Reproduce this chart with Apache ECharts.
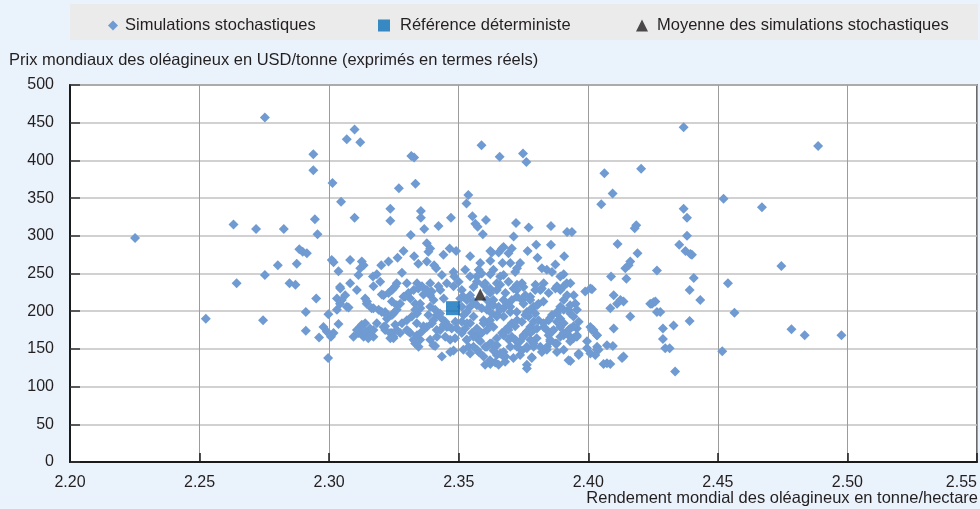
<!DOCTYPE html>
<html>
<head>
<meta charset="utf-8">
<script src="https://cdn.jsdelivr.net/npm/echarts@6/dist/echarts.min.js"></script>
<style>
html,body{margin:0;padding:0;background:#eaf2fb;}
#chart{width:980px;height:509px;}
</style>
</head>
<body>
<div id="chart"></div>
<script>
// ---- Data ----
const xTicks = ['2.20','2.25','2.30','2.35','2.40','2.45','2.50','2.55'];
const yTicks = [0,50,100,150,200,250,300,350,400,450,500];
const legendNames = ['Simulations stochastiques','Référence déterministe','Moyenne des simulations stochastiques'];
const xTitle = 'Rendement mondial des oléagineux en tonne/hectare';
const yTitle = 'Prix mondiaux des oléagineux en USD/tonne (exprimés en termes réels)';

const referencePoint = [2.3478, 204];
const meanPoint = [2.3583, 222];

const simulations = [
[2.2752,457],[2.3098,441],[2.3068,428],[2.3120,424],[2.2939,408],[2.2939,387],[2.3013,370],[2.3046,345],[2.3098,324],[2.2945,322],[2.2955,302],[2.2631,315],[2.2718,309],[2.2825,309],[2.2251,297],[2.2885,282],[2.2898,279],[2.2914,277],[2.2802,261],[2.2875,263],[2.3010,268],[2.3017,265],[2.3081,268],[2.3036,253],[2.2752,248],[2.3113,248],
[2.2643,237],[2.2847,237],[2.2870,235],[2.3042,232],[2.2950,217],[2.3030,217],[2.3049,215],[2.3042,210],[2.3075,205],[2.3030,202],[2.2910,199],[2.2997,196],[2.2524,190],[2.2745,188],[2.3036,183],[2.2910,174],[2.2978,179],[2.2991,173],[2.3007,166],[2.2961,165],[2.3094,166],[2.3113,175],[2.2996,138],
[2.3317,406],[2.3328,404],[2.3588,420],[2.3658,405],[2.3748,409],[2.3761,398],[2.4062,383],[2.4204,389],[2.4094,356],[2.4050,342],[2.3269,363],[2.3333,369],[2.3236,336],[2.3236,320],[2.3354,333],[2.3354,324],[2.3470,324],[2.3422,313],[2.3367,309],[2.3315,301],[2.3537,354],[2.3530,343],[2.3553,326],[2.3605,321],[2.3564,316],[2.3573,312],[2.3593,302],[2.3721,317],[2.3770,311],[2.3856,313],[2.3712,299],[2.3918,305],[2.3937,305],[2.4179,310],[2.4185,314],[2.4113,289],[2.4190,277],[2.4162,266],[2.4156,261],[2.4143,257],[2.4088,246],[2.4147,243],[2.4265,254],[2.3799,288],[2.3856,288],[2.3766,280],[2.3804,271],[2.3907,273],[2.3873,262],[2.3821,257],[2.3840,255],[2.3860,252],[2.3905,249],[2.3892,246],[2.3377,290],[2.3390,283],[2.3383,279],[2.3465,283],[2.3490,280],[2.3441,275],[2.3287,280],[2.3328,273],[2.3264,271],[2.3344,263],[2.3377,266],[2.3405,261],[2.3413,257],[2.3435,248],[2.3480,252],[2.3483,246],[2.3229,266],[2.3201,261],[2.3126,266],[2.3133,261],[2.3120,257],[2.3281,251],[2.3184,249],[2.3169,246],[2.3544,273],[2.3622,280],[2.3628,278],[2.3667,283],[2.3673,285],[2.3654,278],[2.3692,277],[2.3705,283],[2.3669,264],[2.3622,267],[2.3583,264],[2.3699,264],[2.3525,255],[2.3577,255],[2.3589,250],[2.3634,255],[2.3622,249],[2.3673,248],[2.3660,246],[2.3737,264],[2.3725,257],[2.3718,252],[2.3544,246],[2.3570,246],
[2.4368,444],[2.4887,419],[2.4522,349],[2.4670,338],[2.4368,336],[2.4381,324],[2.4381,300],[2.4351,288],[2.4375,280],[2.4394,276],[2.4400,275],[2.4745,260],[2.4407,244],[2.4539,237],[2.4391,228],[2.4432,215],[2.4239,210],[2.4252,212],[2.4278,199],[2.4391,187],[2.4288,177],[2.4329,181],[2.4288,163],[2.4297,151],[2.4314,151],[2.4335,120],[2.4564,198],[2.4784,176],[2.4835,168],[2.4977,168],[2.4517,147],
[2.3763,124],[2.3602,129],[2.3622,130],[2.3641,132],[2.3673,140],[2.3435,140],[2.3480,148],[2.3467,146],[2.3782,139],[2.3821,146],[2.3931,134],[2.3963,142],[2.4008,144],[2.4027,142],[2.4040,149],[2.4034,153],[2.4059,130],[2.4085,130],[2.4095,154],[2.4136,140],[2.4130,138],[2.3409,154],[2.3332,157],[2.3345,153],[2.3351,162],[2.3300,175],[2.3313,171],[2.3236,164],[2.3248,166],[2.3242,171],[2.3210,179],[2.3216,175],[2.3171,166],[2.3152,168],[2.3133,166],[2.3114,171],[2.3120,179],[2.3107,175],
[2.3184,184],[2.3448,166],[2.3467,162],[2.3486,164],[2.3429,175],[2.3454,179],[2.3473,177],[2.3531,162],[2.3538,153],[2.3557,153],[2.3577,146],[2.3609,153],[2.3628,157],[2.3634,148],[2.3660,144],[2.3680,140],[2.3647,155],[2.3725,153],[2.3744,148],[2.3737,160],[2.3705,166],[2.3718,162],[2.3789,153],[2.3801,164],[2.3853,162],[2.3873,157],[2.3892,166],[2.3905,171],[2.3924,168],[2.3956,166],[2.3943,164],[2.3840,175],[2.3860,173],[2.3892,179],[2.3905,184],[2.3931,177],[2.3956,177],[2.4020,175],[2.4034,168],[2.4008,179],[2.4098,177],[2.4162,193],[2.4085,204],[2.4111,210],[2.4124,215],[2.4136,213],[2.4098,221],[2.4246,210],[2.4259,213],[2.4265,199],[2.3988,226],[2.4014,229],[2.3950,210],[2.3931,197],[2.3943,193],[2.3892,206],[2.3879,199],[2.3860,195],[2.3847,188],[2.3879,186],[2.3892,190],[2.3905,215],[2.3918,221],[2.3873,230],[2.3892,228],[2.3815,228],[2.3827,213],[2.3808,210],[2.3789,206],[2.3776,202],[2.3763,199],[2.3757,195],[2.3789,186],[2.3776,179],[2.3763,173],[2.3750,168],[2.3725,188],[2.3705,184],[2.3692,179],[2.3680,175],[2.3667,171],[2.3725,219],[2.3744,215],[2.3757,221],[2.3776,219],[2.3712,230],[2.3725,235],[2.3744,237],[2.3750,232],[2.3660,235],[2.3680,224],[2.3647,228],[2.3634,215],[2.3622,208],[2.3609,202],[2.3628,197],[2.3647,195],[2.3654,206],[2.3673,204],[2.3699,199],[2.3596,188],[2.3615,184],[2.3634,179],[2.3609,175],[2.3589,171],[2.3570,166],[2.3557,193],[2.3544,184],[2.3525,177],[2.3512,186],[2.3531,199],[2.3544,206],[2.3557,213],[2.3570,208],[2.3589,204],[2.3531,215],[2.3544,221],[2.3518,219],[2.3557,232],[2.3570,239],[2.3602,237],
[2.3043,230],[2.3068,206],[2.3017,171],[2.3139,217],[2.3146,213],[2.3171,204],[2.3191,202],[2.3216,199],[2.3210,221],[2.3229,224],[2.3242,228],[2.3255,233],[2.3261,237],[2.3274,210],[2.3261,202],[2.3242,195],[2.3223,190],[2.3255,182],[2.3281,184],[2.3300,188],[2.3319,193],[2.3339,197],[2.3352,204],[2.3332,210],[2.3313,217],[2.3306,224],[2.3326,228],[2.3339,237],[2.3358,233],[2.3377,228],[2.3390,221],[2.3403,215],[2.3390,206],[2.3409,202],[2.3416,195],[2.3435,190],[2.3448,186],[2.3442,182],[2.3461,180],[2.3397,184],[2.3377,179],[2.3358,173],[2.3339,168],[2.3326,162],[2.3390,162],[2.3416,166],[2.3171,233],[2.3197,239],[2.3081,237],[2.3107,228],[2.3062,221],[2.3300,237],[2.3390,237],[2.3429,228],[2.3442,217],[2.3454,237],[2.3480,233],[2.3500,239],[2.3512,228],[2.3506,217],[2.3512,206],[2.3519,195],[2.3512,171],[2.3487,186],[2.3493,177],[2.3158,177],[2.3139,184],
[2.3796,235],[2.3828,237],[2.3847,224],[2.3905,233],[2.3931,237],[2.3944,221],[2.3924,202],[2.3956,202],[2.3789,175],[2.3828,179],[2.3808,188],[2.3686,210],[2.3705,215],[2.3673,193],[2.3609,228],[2.3622,224],[2.3647,237],[2.3532,184],[2.3570,177],[2.3577,162],[2.3551,171],[2.3693,162],[2.3776,162],[2.3763,153],[2.3841,153],
[2.3126,182],[2.3139,173],[2.3145,210],[2.3164,204],[2.3203,199],[2.3171,175],[2.3158,168],[2.3151,164],[2.3216,180],[2.3235,171],[2.3248,164],[2.3261,175],[2.3274,171],[2.3306,173],[2.3203,222],[2.3248,230],[2.3287,219],[2.3222,195],[2.3248,197],[2.3242,213],[2.3261,208],[2.3344,230],[2.3364,222],[2.3396,226],[2.3422,233],[2.3332,202],[2.3383,195],[2.3338,184],[2.3364,180],[2.3402,188],[2.3428,197],[2.3415,175],[2.3332,160],[2.3402,155],[2.3293,219],[2.3351,210],
[2.3596,235],[2.3621,230],[2.3692,239],[2.3724,228],[2.3795,228],[2.3821,230],[2.3879,233],[2.3917,237],[2.4008,230],
[2.3609,215],[2.3634,208],[2.3660,202],[2.3647,193],[2.3621,188],[2.3596,184],[2.3673,215],[2.3699,206],[2.3724,199],[2.3750,210],[2.3776,215],[2.3802,208],[2.3795,197],[2.3769,193],[2.3744,186],[2.3718,180],[2.3692,175],[2.3673,168],[2.3647,164],[2.3621,157],[2.3602,153],[2.3583,160],[2.3557,166],[2.3531,162],[2.3518,149],[2.3544,144],[2.3570,149],[2.3596,140],[2.3621,135],[2.3647,142],[2.3673,146],[2.3699,153],[2.3724,160],[2.3750,166],[2.3776,171],[2.3802,177],[2.3827,184],[2.3853,191],[2.3879,197],[2.3905,202],[2.3930,208],[2.3950,210],[2.3892,182],[2.3866,175],[2.3847,168],[2.3853,160],[2.3879,157],[2.3905,168],[2.3924,175],[2.3943,180],[2.3963,186],[2.3956,168],[2.3930,160],[2.3905,149],[2.3879,146],[2.3840,149],[2.3815,153],[2.3789,157],[2.3763,151],[2.3737,142],[2.3711,138],[2.3679,133],[2.3654,129],[2.3782,138],[2.3763,129],[2.3924,135],[2.3963,144],[2.3995,151],[2.4033,149],[2.4072,155],[2.4014,175],[2.4033,168],[2.3995,160],[2.4072,131]
];

// ---- Chart ----
const chart = echarts.init(document.getElementById('chart'), null, {renderer:'canvas'});
const FONT = 'Liberation Sans, Arial, sans-serif';
const TXT = '#231f20';
const TS = 16.5;

function legendItem(name, icon, left, w, pad) {
  return {
    top: 12, left: left, itemWidth: w, itemHeight: w, icon: icon,
    data: [name], selectedMode: false,
    textStyle: {fontSize: TS, color: TXT, fontFamily: FONT, padding: [0,0,0,pad]}
  };
}

const option = {
  backgroundColor: '#eaf2fb',
  animation: false,
  textStyle: {fontFamily: FONT},
  graphic: [
    {type:'rect', left:70, top:4, shape:{width:908, height:36}, style:{fill:'#ebebeb'}, z:-1},
    {type:'text', left:9, top:52, style:{text:yTitle, font:TS+'px '+FONT, fill:TXT}},
    {type:'text', right:2, top:490, style:{text:xTitle, font:TS+'px '+FONT, fill:TXT}}
  ],
  legend: [
    legendItem(legendNames[0], 'diamond', 103, 10, 2),
    legendItem(legendNames[1], 'rect', 373, 12, 5),
    legendItem(legendNames[2], 'triangle', 631, 12, 4)
  ],
  grid: {left:70, right:3, top:85, bottom:47, show:true, backgroundColor:'#ffffff', borderColor:'#3a3a3a', borderWidth:1.5},
  xAxis: {
    type:'value', min:2.20, max:2.55, interval:0.05,
    axisLine:{show:true, onZero:false, lineStyle:{color:'#1a1a1a', width:2}},
    axisTick:{show:true, inside:true, length:9, lineStyle:{color:'#1a1a1a', width:1.5}},
    axisLabel:{color:TXT, fontSize:16, margin:13, fontFamily:FONT, alignMaxLabel:'right',
      formatter: v => xTicks[Math.round((v-2.20)/0.05)] || ''},
    splitLine:{show:true, lineStyle:{color:'#9c9c9c', width:1}}
  },
  yAxis: {
    type:'value', min:0, max:500, interval:50,
    axisLine:{show:true, onZero:false, lineStyle:{color:'#1a1a1a', width:2}},
    axisTick:{show:true, inside:true, length:10, lineStyle:{color:'#333', width:1.5}},
    axisLabel:{color:TXT, fontSize:16, margin:16, fontFamily:FONT,
      formatter: v => yTicks.includes(v) ? String(v) : ''},
    splitLine:{show:true, lineStyle:{color:'#c2c2c2', width:1.5}}
  },
  series: [
    {name:legendNames[0], type:'scatter', symbol:'diamond', symbolSize:10,
     itemStyle:{color:'#6f9bd2', opacity:1}, data: simulations, z:2},
    {name:legendNames[1], type:'scatter', symbol:'rect', symbolSize:14,
     itemStyle:{color:'#0b6fba'}, data:[referencePoint], z:3},
    {name:legendNames[2], type:'scatter', symbol:'triangle', symbolSize:12,
     itemStyle:{color:'#231f20'}, data:[meanPoint], z:4}
  ]
};
chart.setOption(option);
</script>
</body>
</html>
